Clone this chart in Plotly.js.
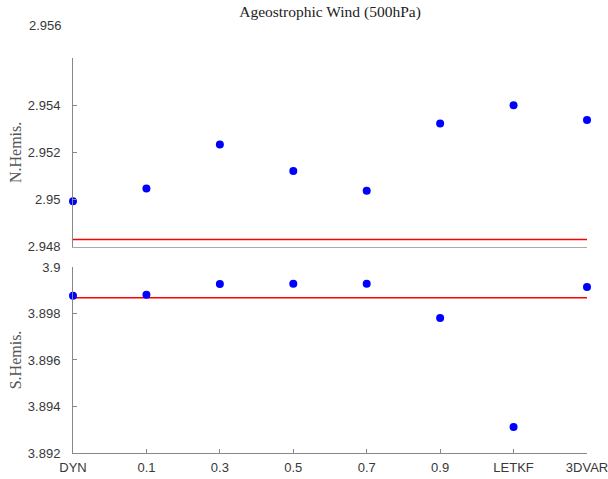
<!DOCTYPE html>
<html>
<head>
<meta charset="utf-8">
<script src="https://cdn.plot.ly/plotly-3.0.1.min.js"></script>
<style>html,body{margin:0;padding:0;background:#fff;}#chart{width:608px;height:479px;}</style>
</head>
<body>
<div id="chart"></div>
<script>
const categories = ["DYN", "0.1", "0.3", "0.5", "0.7", "0.9", "LETKF", "3DVAR"];
const northValues = [2.94993, 2.95047, 2.95234, 2.95121, 2.95038, 2.95323, 2.95400, 2.95337];
const southValues = [3.89876, 3.89881, 3.89927, 3.89928, 3.89928, 3.89780, 3.89312, 3.89914];
const northReference = [2.94831, 2.94831, 2.94831, 2.94831, 2.94831, 2.94831, 2.94831, 2.94831];
const southReference = [3.89868, 3.89868, 3.89868, 3.89868, 3.89868, 3.89868, 3.89868, 3.89868];
const northTicks = [2.948, 2.95, 2.952, 2.954, 2.956];
const northTickText = ["2.948", "2.95", "2.952", "2.954", ""];
const southTicks = [3.892, 3.894, 3.896, 3.898, 3.9];
const southTickText = ["3.892", "3.894", "3.896", "3.898", "3.9"];
const topLabel = "2.956";

const tickFont = {family: "Liberation Sans, Arial, sans-serif", size: 13, color: "#383838"};
const serifTitle = {family: "Liberation Serif, Times New Roman, serif", size: 15.5, color: "#222"};
const serifAxis = {family: "Liberation Serif, Times New Roman, serif", size: 16, color: "#555"};

const traces = [
  {x: categories, y: northReference, mode: "lines", line: {color: "#ff0000", width: 1.5}, xaxis: "x", yaxis: "y", cliponaxis: false, hoverinfo: "skip"},
  {x: categories, y: northValues, mode: "markers", marker: {color: "#0000ff", size: 8}, xaxis: "x", yaxis: "y", cliponaxis: false},
  {x: categories, y: southReference, mode: "lines", line: {color: "#ff0000", width: 1.5}, xaxis: "x2", yaxis: "y2", cliponaxis: false, hoverinfo: "skip"},
  {x: categories, y: southValues, mode: "markers", marker: {color: "#0000ff", size: 8}, xaxis: "x2", yaxis: "y2", cliponaxis: false}
];

const layout = {
  width: 608, height: 479,
  margin: {l: 73, r: 21, t: 58, b: 26},
  paper_bgcolor: "#fff", plot_bgcolor: "#fff",
  showlegend: false,
  title: {text: "Ageostrophic Wind (500hPa)", font: serifTitle, x: 0.5, xref: "paper", y: 0.988, yref: "container", yanchor: "top"},
  xaxis: {
    domain: [0, 1], anchor: "y", type: "category", range: [0, 7],
    showticklabels: false, ticks: "", showgrid: false, zeroline: false,
    showline: true, linecolor: "#aaaaaa", linewidth: 1.5
  },
  yaxis: {
    domain: [0.522, 1], anchor: "x", range: [2.948, 2.956],
    tickmode: "array", tickvals: northTicks, ticktext: northTickText,
    ticks: "inside", ticklen: 4, tickcolor: "#888", tickfont: tickFont,
    showgrid: false, zeroline: false, showline: true, linecolor: "#888", linewidth: 1,
    ticklabelstandoff: 9,
    title: {text: "N.Hemis.", font: serifAxis, standoff: 2}
  },
  xaxis2: {
    domain: [0, 1], anchor: "y2", type: "category", range: [0, 7],
    ticks: "inside", ticklen: 4, tickcolor: "#888", tickfont: tickFont,
    showgrid: false, zeroline: false, showline: true, linecolor: "#888", linewidth: 1,
    ticklabelstandoff: 2
  },
  yaxis2: {
    domain: [0, 0.471], anchor: "x2", range: [3.892, 3.9],
    tickmode: "array", tickvals: southTicks, ticktext: southTickText,
    ticks: "inside", ticklen: 4, tickcolor: "#888", tickfont: tickFont,
    showgrid: false, zeroline: false, showline: true, linecolor: "#888", linewidth: 1,
    ticklabelstandoff: 9,
    title: {text: "S.Hemis.", font: serifAxis, standoff: 2}
  },
  annotations: [
    {text: topLabel, xref: "paper", yref: "paper", x: 0, y: 1.083, xanchor: "right", yanchor: "middle", xshift: -9, showarrow: false, font: tickFont}
  ]
};

Plotly.newPlot("chart", traces, layout, {displayModeBar: false, staticPlot: true});
</script>
</body>
</html>
